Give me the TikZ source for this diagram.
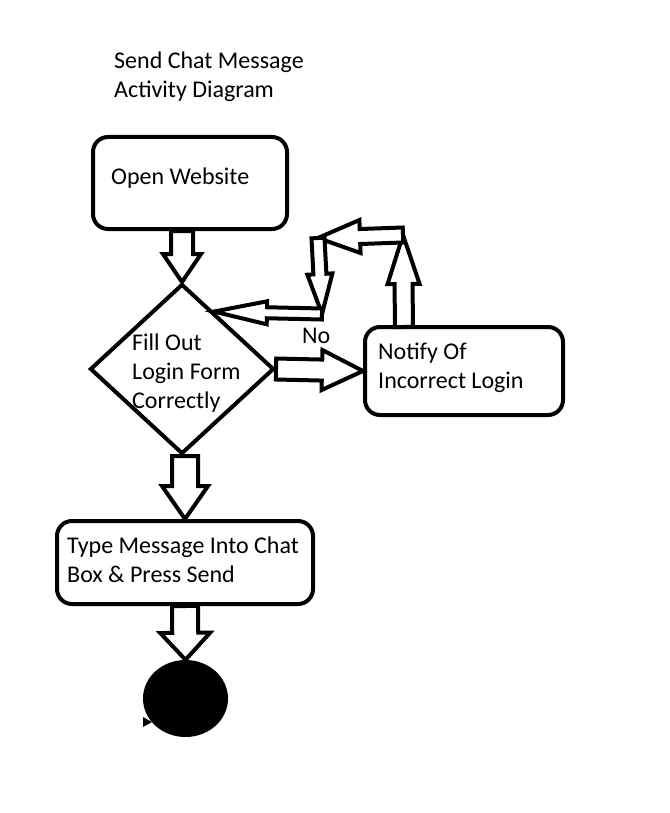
\documentclass[tikz,border=0pt]{standalone}
\usepackage{fontspec}
\setmainfont{Carlito}
\usetikzlibrary{calc,shapes.geometric}
\tikzset{
  box/.style={draw=black,line width=4pt,rounded corners=15pt,fill=white,inner sep=0pt},
  arrowbox/.style={draw=black,line width=4pt,fill=white,line join=miter},
  lbl/.style={anchor=base west,inner sep=0pt,align=left,font=\fontsize{24}{29}\selectfont},
}
\newcommand\blockarrow[5]{%
  \coordinate (hb) at ($(#2)!#5!(#1)$);
  \draw[arrowbox] ($(#1)!#3!90:(#2)$) -- ($(hb)!#3!90:(#2)$) -- ($(hb)!#4!90:(#2)$) -- (#2)
    -- ($(hb)!#4!-90:(#2)$) -- ($(hb)!#3!-90:(#2)$) -- ($(#1)!#3!-90:(#2)$) -- cycle;}
\begin{document}
\begin{tikzpicture}[x=1pt,y=-1pt]
\useasboundingbox (0,0) rectangle (669,813);
% title (base anchor = last line)
\node[lbl] (title) at (114,98) {Send Chat Message\\Activity Diagram};
% nodes
\node[box,minimum width=194pt,minimum height=92pt] (open) at (190,183) {};
\node[draw=black,line width=4pt,diamond,fill=white,inner sep=0pt,minimum width=184pt,minimum height=170pt] (dia) at (182,369) {};
\node[box,minimum width=198pt,minimum height=88pt] (notify) at (464,371) {};
\node[box,minimum width=256pt,minimum height=83pt] (type) at (185,562.5) {};
\node[ellipse,fill=black,minimum width=85pt,minimum height=77pt,inner sep=0pt] (end) at (185.5,698.5) {};
\fill (143,717) -- (152,722) -- (143,727) -- cycle;
% texts
\node[lbl] (t1) at (111,185) {Open Website};
\node[lbl] (t2) at (132,408) {Fill Out\\Login Form\\Correctly};
\node[lbl] (t3) at (378,388) {Notify Of\\Incorrect Login};
\node[lbl] (t4) at (67,582) {Type Message Into Chat\\Box \& Press Send};
\node[lbl] (no) at (302,343) {No};
% corner coordinates
\coordinate (c0) at (404,327);
\coordinate (c1) at (403,235);
\coordinate (c2) at (318,238);
\coordinate (c3) at (322,314);
\coordinate (d1) at ($(dia.north)!0.34!(dia.east)$);
\coordinate (a1) at (open.south -| dia.north);
\coordinate (a2) at (type.north |- dia.south);
% arrows
\blockarrow{a1}{dia.north}{11pt}{19pt}{28pt}
\blockarrow{a2}{type.north}{13pt}{23pt}{33pt}
\blockarrow{type.south}{end.north}{13pt}{25pt}{27pt}
\blockarrow{dia.east}{notify.west}{10.5pt}{20pt}{41pt}
\blockarrow{c0}{c1}{9pt}{16pt}{49pt}
\blockarrow{c1}{c2}{7.5pt}{16.5pt}{42pt}
\blockarrow{c2}{c3}{6.5pt}{12.5pt}{40pt}
\blockarrow{c3}{d1}{5.5pt}{11.5pt}{53pt}
\end{tikzpicture}
\end{document}
